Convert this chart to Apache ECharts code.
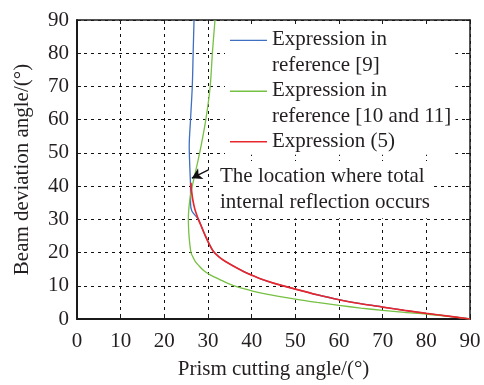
<!DOCTYPE html>
<html>
<head>
<meta charset="utf-8">
<script src="https://cdn.jsdelivr.net/npm/echarts@6/dist/echarts.min.js"></script>
<style>
html,body{margin:0;padding:0;background:#fff;}
#chart{width:484px;height:385px;}
</style>
</head>
<body>
<div id="chart"></div>
<script>
// axis ticks
const xTicks=[0,10,20,30,40,50,60,70,80,90];
const yTicks=[0,10,20,30,40,50,60,70,80,90];

// series names
const seriesNames=['Expression in reference [9]','Expression in reference [10 and 11]','Expression (5)'];
const legendLabels=['Expression in\nreference [9]','Expression in\nreference [10 and 11]','Expression (5)'];

// [prism cutting angle, beam deviation angle]
const blueTop=[[26.8,90],[26.6,80],[26.4,70],[26.0,60],[25.7,52],[25.8,47],[25.9,43.5],[26.0,40],[26.0,35],[26.3,32.5]];
const redTop=[[26.1,41],[26.2,39],[26.5,36],[27,33]];
const sharedTail=[[27.8,30],[28.6,27.5],[29.4,25],[30.3,22.5],[31.2,20.4],[32.5,18.7],[34,17.3],[36,15.8],[38,14.4],[40,13.2],[42,12.1],[45,10.8],[50,9.0],[55,7.3],[60,5.8],[65,4.6],[70,3.6],[75,2.6],[80,1.7],[85,0.85],[90,0]];
const greenCurve=[[31.6,90],[31.0,80],[30.5,70],[29.5,60],[28.4,52],[27.6,47],[27.0,43.5],[26.4,40],[25.9,36.5],[25.6,33],[25.5,30],[25.6,26],[25.8,23],[26.1,20],[26.5,18.8],[27.1,17.3],[27.8,16.2],[29,14.6],[30.5,13.3],[32.5,12],[35.7,10.1],[40,8.5],[43.4,7.5],[50,6.0],[55,5.0],[60,4.1],[65,3.3],[70,2.6],[75,2.0],[80,1.5],[85,0.8],[90,0]];

const blueCurve=blueTop.concat(sharedTail);
const redCurve=redTop.concat(sharedTail);

// annotation arrow (data coords)
const arrowFrom=[30.1,44.9];
const arrowTo=[26.3,42.4];
const noteText='The location where total\ninternal reflection occurs';

const FONT='"Liberation Serif","Times New Roman",serif';
const TEXT_COLOR='#231f20';

const chart=echarts.init(document.getElementById('chart'));

function axisBase(pos,lineWidth,main){
    return {
        type:'value',
        position:pos,
        min:xTicks[0],
        max:xTicks[xTicks.length-1],
        interval:10,
        axisLine:{show:true,onZero:false,lineStyle:{color:'#1a1a1a',width:lineWidth}},
        axisTick:{show:true,inside:true,length:4,lineStyle:{color:'#1a1a1a',width:1}},
        axisLabel:{show:main,margin:8,color:TEXT_COLOR,fontFamily:FONT,fontSize:21},
        splitLine:main?{show:true,lineStyle:{color:'#111',width:1,type:[3,4]}}:{show:false}
    };
}

const xMain=axisBase('bottom',2,true);
xMain.axisLabel.margin=12;
xMain.name='Prism cutting angle/(°)';
xMain.nameLocation='middle';
xMain.nameGap=40;
xMain.nameTextStyle={color:TEXT_COLOR,fontFamily:FONT,fontSize:21};

const yMain=axisBase('left',2,true);
yMain.min=yTicks[0];
yMain.max=yTicks[yTicks.length-1];
yMain.name='Beam deviation angle/(°)';
yMain.nameLocation='middle';
yMain.nameGap=44;
yMain.nameTextStyle={color:TEXT_COLOR,fontFamily:FONT,fontSize:21};

const xTop=axisBase('top',1.5,false);
const yRight=axisBase('right',1.5,false);

const iconTop='path://M0,0L37,0L37,1.4L0,1.4Z M0,26L0.01,26L0,26Z';
const iconMid='path://M0,0L0.01,0L0,0Z M0,12.3L37,12.3L37,13.7L0,13.7Z M0,26L0.01,26L0,26Z';

const option={
    animation:false,
    grid:{left:77,right:14,top:20,bottom:56},
    xAxis:[xMain,xTop],
    yAxis:[yMain,yRight],
    legend:{
        orient:'vertical',
        left:225,
        top:24,
        padding:[3,4,0,5],
        itemWidth:37,
        itemHeight:26,
        itemGap:-0.5,
        backgroundColor:'#ffffff',
        selectedMode:false,
        itemStyle:{borderWidth:0},
        textStyle:{color:TEXT_COLOR,fontFamily:FONT,fontSize:21,lineHeight:25.7},
        formatter:function(name){
            return legendLabels[seriesNames.indexOf(name)];
        },
        data:[
            {name:seriesNames[0],icon:iconTop},
            {name:seriesNames[1],icon:iconTop},
            {name:seriesNames[2],icon:iconMid,textStyle:{lineHeight:20}}
        ]
    },
    graphic:[{
        type:'text',
        left:216,
        top:161,
        z:10,
        style:{
            text:noteText,
            font:'21px '+FONT,
            lineHeight:26.6,
            fill:TEXT_COLOR,
            backgroundColor:'#ffffff',
            padding:[2,4,2,4]
        }
    }],
    series:[
        {
            name:seriesNames[0],
            type:'line',
            data:blueCurve,
            showSymbol:false,
            smooth:0.3,
            color:'#3f6fc0',
            lineStyle:{width:1.3},
            z:3
        },
        {
            name:seriesNames[1],
            type:'line',
            data:greenCurve,
            showSymbol:false,
            smooth:0.3,
            color:'#76c043',
            lineStyle:{width:1.3},
            z:3
        },
        {
            name:seriesNames[2],
            type:'line',
            data:redCurve,
            showSymbol:false,
            smooth:0.3,
            color:'#e8262c',
            lineStyle:{width:1.7},
            z:4,
            markLine:{
                silent:true,
                symbol:['none','arrow'],
                symbolSize:[9,10],
                label:{show:false},
                lineStyle:{color:'#111',width:1.3,type:'solid'},
                data:[[{coord:arrowFrom},{coord:arrowTo}]]
            }
        }
    ]
};
chart.setOption(option);
</script>
</body>
</html>
